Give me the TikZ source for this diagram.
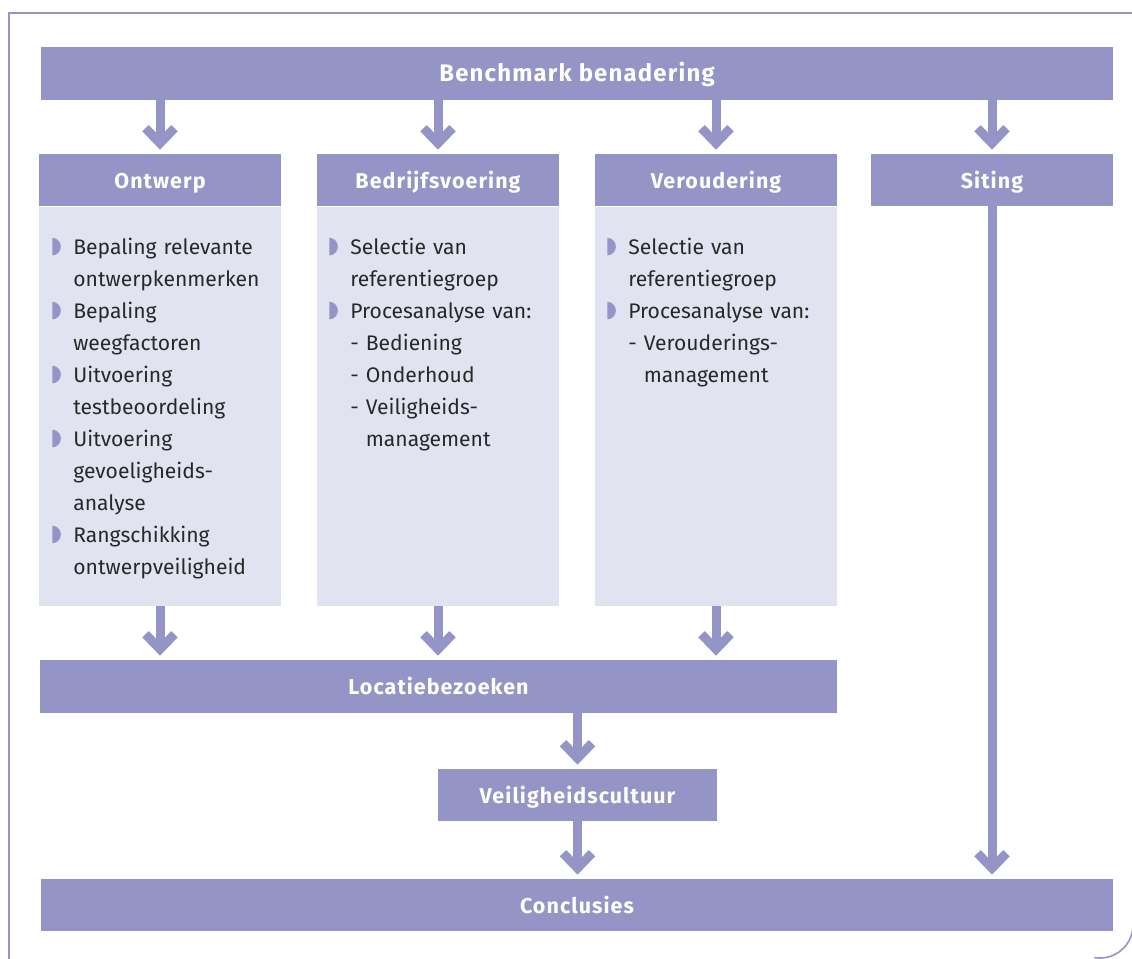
\documentclass[tikz,border=0pt]{standalone}
\usepackage{fontspec}
\setmainfont{Fira Sans}
\newfontfamily\headfont[LetterSpace=5]{Fira Sans}
\usepackage{tikz}
\usetikzlibrary{positioning}
\usetikzlibrary{arrows.meta}
\setlength{\parindent}{0pt}
\definecolor{boxc}{RGB}{148,148,198}
\definecolor{panelc}{RGB}{226,227,241}
\definecolor{txtc}{RGB}{40,40,40}
\newcommand{\bul}{\leavevmode\llap{\tikz[baseline=0pt]\fill[boxc] (0,-0.01) arc[start angle=-90, end angle=90, x radius=0.17cm, y radius=0.175cm] -- cycle;\hspace{0.25cm}}}
\newcommand{\ind}{\hphantom{- }}

\begin{document}
\begin{tikzpicture}[
		hbox/.style={fill=boxc, inner sep=0pt, text=white, text height=0.95em, text depth=0pt,
			font=\headfont\bfseries\fontsize{12.2pt}{14pt}\selectfont},
		panel/.style={fill=panelc, inner sep=0pt, minimum width=4.84cm, minimum height=7.98cm},
		items/.style={inner sep=0pt, text=txtc, align=left, text width=4.4cm,
			font=\fontsize{12pt}{18.2pt}\selectfont},
		flow/.style={draw=boxc, line width=0.18cm, shorten >=0.08cm,
			-{Straight Barb[length=0.3cm, width=0.58cm]}}
	]
		\useasboundingbox (0,0) rectangle (22.64,-19.16);
		% frame
		\draw[boxc, line width=0.9pt] (0.18,-19.3) -- (0.18,-0.26) -- (22.8,-0.26);
		\begin{scope}
		\clip (0,0) rectangle (22.64,-19.16);
		\draw[boxc, line width=0.9pt] (21.885,-19.15) arc[start angle=-100, end angle=-10, radius=0.66];
		\end{scope}

		% top and bottom bars
		\node[hbox, minimum width=21.44cm, minimum height=1.06cm, font=\headfont\bfseries\fontsize{13.6pt}{16pt}\selectfont] (bench) at (11.54,-1.47) {Benchmark benadering};
		\node[hbox, minimum width=4.84cm, minimum height=1.04cm] (ontw) at (3.2,-3.6) {Ontwerp};
		\node[hbox, minimum width=4.84cm, minimum height=1.04cm] (bedr) at (8.76,-3.6) {Bedrijfsvoering};
		\node[hbox, minimum width=4.84cm, minimum height=1.04cm] (verou) at (14.32,-3.6) {Veroudering};
		\node[hbox, minimum width=4.84cm, minimum height=1.04cm] (sit) at (19.84,-3.6) {Siting};

		% panels
		\node[panel, below=0pt of ontw] (ontwp) {};
		\node[panel, below=0pt of bedr] (bedrp) {};
		\node[panel, below=0pt of verou] (verop) {};

		\node[items, anchor=north west] (ontwt) at (1.46,-4.75) {\bul Bepaling relevante\\ ontwerpkenmerken\\ \bul Bepaling\\ weegfactoren\\ \bul Uitvoering\\ testbeoordeling\\ \bul Uitvoering\\ gevoeligheids-\\ analyse\\ \bul Rangschikking\\ ontwerpveiligheid};
		\node[items, anchor=north west] (bedrt) at (7.0,-4.75) {\bul Selectie van\\ referentiegroep\\ \bul Procesanalyse van:\\ - Bediening\\ - Onderhoud\\ - Veiligheids-\\ \ind management};
		\node[items, anchor=north west] (verot) at (12.56,-4.75) {\bul Selectie van\\ referentiegroep\\ \bul Procesanalyse van:\\ - Verouderings-\\ \ind management};

		\node[hbox, minimum width=15.94cm, minimum height=1.06cm] (loc) at (8.77,-13.73) {Locatiebezoeken};
		\node[hbox, minimum width=5.58cm, minimum height=1.04cm] (veil) at (11.55,-15.9) {Veiligheidscultuur};
		\node[hbox, minimum width=21.44cm, minimum height=1.04cm] (concl) at (11.54,-18.1) {Conclusies};

		% arrows
		\draw[flow] (bench.south -| ontw.north) -- (ontw.north);
		\draw[flow] (bench.south -| bedr.north) -- (bedr.north);
		\draw[flow] (bench.south -| verou.north) -- (verou.north);
		\draw[flow] (bench.south -| sit.north) -- (sit.north);
		\draw[flow] (ontwp.south) -- (ontwp.south |- loc.north);
		\draw[flow] (bedrp.south) -- (bedrp.south |- loc.north);
		\draw[flow] (verop.south) -- (verop.south |- loc.north);
		\draw[flow] (loc.south -| veil.north) -- (veil.north);
		\draw[flow] (veil.south) -- (veil.south |- concl.north);
		\draw[flow] (sit.south) -- (sit.south |- concl.north);
\end{tikzpicture}
\end{document}
